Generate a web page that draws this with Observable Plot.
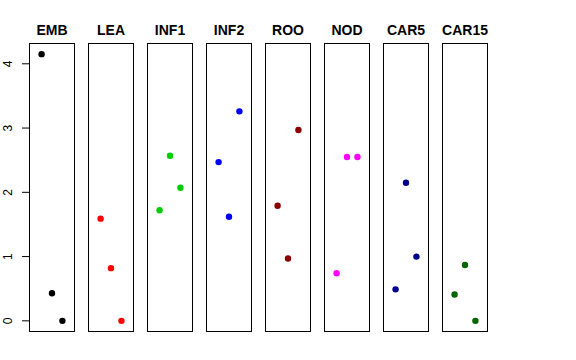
<!DOCTYPE html>
<html>
<head>
<meta charset="utf-8">
<script src="https://cdn.jsdelivr.net/npm/d3@7"></script>
<script src="https://cdn.jsdelivr.net/npm/@observablehq/plot@0.6"></script>
<style>
  html, body { margin: 0; padding: 0; background: #fff; }
  svg { font-family: "Liberation Sans", Arial, Helvetica, sans-serif; }
</style>
</head>
<body>
<div id="chart"></div>
<script>
const panels = ["EMB", "LEA", "INF1", "INF2", "ROO", "NOD", "CAR5", "CAR15"];
const colors = ["#000000", "#FF0000", "#00CD00", "#0000FF", "#8B0000", "#FF00FF", "#00008B", "#006400"];
const positions = [1, 2, 3];
const EMB = [4.15, 0.43, 0];
const LEA = [1.59, 0.82, 0];
const INF1 = [1.72, 2.57, 2.07];
const INF2 = [2.47, 1.62, 3.26];
const ROO = [1.79, 0.97, 2.97];
const NOD = [0.74, 2.55, 2.55];
const CAR5 = [0.49, 2.15, 1.00];
const CAR15 = [0.41, 0.87, 0];
const yTicks = [0, 1, 2, 3, 4];

const series = [EMB, LEA, INF1, INF2, ROO, NOD, CAR5, CAR15];
const data = [];
panels.forEach((p, i) => {
  series[i].forEach((v, j) => data.push({panel: p, x: positions[j], y: v}));
});

const chart = Plot.plot({
  width: 576,
  height: 360,
  marginLeft: 28.5,
  marginRight: 88,
  marginTop: 43,
  marginBottom: 29,
  style: {fontFamily: "'Liberation Sans', Arial, Helvetica, sans-serif", background: "#fff"},
  fx: {domain: panels, paddingInner: 0.239, paddingOuter: 0},
  x: {domain: [-0.16, 4.16], axis: null},
  y: {domain: [-0.166, 4.316]},
  color: {domain: panels, range: colors},
  marks: [
    Plot.frame({stroke: "#000", strokeWidth: 1}),
    Plot.axisY({
      ticks: yTicks,
      tickFormat: () => "",
      tickSize: 7,
      label: null
    }),
    Plot.axisY({
      ticks: yTicks,
      tickFormat: d => String(d),
      tickSize: 0,
      tickPadding: 21,
      rotate: -90,
      textAnchor: "middle",
      lineAnchor: "middle",
      fontSize: 12,
      label: null
    }),
    Plot.axisFx({
      anchor: "top",
      tickSize: 0,
      tickPadding: 9,
      fontSize: 14,
      fontWeight: "bold",
      label: null
    }),
    Plot.dot(data, {fx: "panel", x: "x", y: "y", fill: "panel", r: 3.2, stroke: null})
  ]
});
document.getElementById("chart").appendChild(chart);
</script>
</body>
</html>
